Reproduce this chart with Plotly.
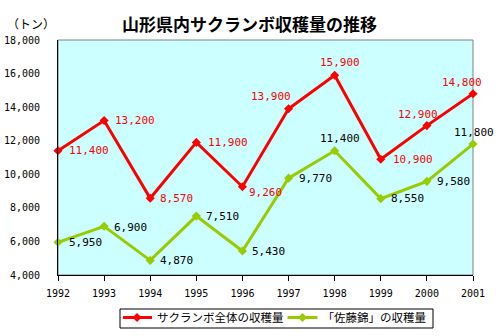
import plotly.graph_objects as go

years = [1992, 1993, 1994, 1995, 1996, 1997, 1998, 1999, 2000, 2001]
total = [11400, 13200, 8570, 11900, 9260, 13900, 15900, 10900, 12900, 14800]
sato = [5950, 6900, 4870, 7510, 5430, 9770, 11400, 8550, 9580, 11800]
name_total = "サクランボ全体の収穫量"
name_sato = "「佐藤錦」の収穫量"
title_text = "山形県内サクランボ収穫量の推移"
unit_text = "（トン）"

# label placement styles (xanchor, xshift, yshift) per point
pos_total = [("left", 9, 0), ("left", 9, 0), ("left", 8, 0), ("left", 10, 0), ("left", 5, -6),
             ("center", -18, 12), ("center", 5, 13), ("left", 10, 0), ("center", -9, 11), ("center", -11, 11)]
pos_sato = [("left", 9, 0), ("left", 8, -1), ("left", 8, 0), ("left", 8, 0), ("left", 8, 0),
            ("left", 8, 0), ("center", 5, 12), ("left", 8, 0), ("left", 8, 0), ("center", 1, 12)]

RED = "#FF0000"
GREEN = "#99CC00"
NUMFONT = "DejaVu Sans Mono"
JPFONT = "Noto Sans CJK JP"

L, R, T, B = 58, 473, 40, 275
W, H = 501, 336

def px_to_paper(px, py):
    return (px - L) / (R - L), (B - py) / (B - T)

fig = go.Figure()
fig.add_trace(go.Scatter(x=years, y=total, name=name_total, mode="lines+markers",
                         line=dict(color=RED, width=3),
                         marker=dict(symbol="diamond", size=7, color=RED),
                         cliponaxis=False))
fig.add_trace(go.Scatter(x=years, y=sato, name=name_sato, mode="lines+markers",
                         line=dict(color=GREEN, width=3),
                         marker=dict(symbol="diamond", size=7, color=GREEN),
                         cliponaxis=False))

annotations = []
for ys, pos, col in ((total, pos_total, RED), (sato, pos_sato, "#000000")):
    for x, y, (xa, xs, yshift) in zip(years, ys, pos):
        annotations.append(dict(x=x, y=y, xref="x", yref="y", text=f"{y:,}",
                                showarrow=False, xanchor=xa, yanchor="middle",
                                xshift=xs, yshift=yshift,
                                font=dict(family=NUMFONT, size=11, color=col)))

ux, uy = px_to_paper(31, 23)
annotations.append(dict(x=ux, y=uy, xref="paper", yref="paper",
                        text=unit_text, showarrow=False, xanchor="center", yanchor="middle",
                        font=dict(family=JPFONT, size=12, color="#000")))
tx, ty = px_to_paper(249, 23)
annotations.append(dict(x=tx, y=ty, xref="paper", yref="paper",
                        text="<b>" + title_text + "</b>", showarrow=False, xanchor="center", yanchor="middle",
                        font=dict(family=JPFONT, size=17, color="#000")))

lx, ly = px_to_paper(277, 303)
bx0, by0 = px_to_paper(120, 328)
bx1, by1 = px_to_paper(433, 309)

fig.update_layout(
    width=W, height=H,
    margin=dict(l=L, r=W - R, t=T, b=H - B, autoexpand=False),
    paper_bgcolor="white",
    plot_bgcolor="#CCFFFF",
    xaxis=dict(range=[1992, 2001], tickmode="array", tickvals=years, ticktext=[str(y) for y in years],
               showgrid=False, zeroline=False, showline=True, linecolor="#000", linewidth=1,
               ticks="outside", ticklen=5, tickcolor="#000", ticklabelstandoff=4,
               tickfont=dict(family=NUMFONT, size=10, color="#000"), automargin=False),
    yaxis=dict(range=[4000, 18000], dtick=2000, tickformat=",",
               showgrid=False, zeroline=False, showline=True, linecolor="#000", linewidth=1,
               ticks="", ticklabelstandoff=15,
               tickfont=dict(family=NUMFONT, size=10, color="#000"), automargin=False),
    showlegend=True,
    legend=dict(orientation="h", x=lx, xanchor="center", y=ly, yanchor="top",
                borderwidth=0, bgcolor="rgba(0,0,0,0)",
                font=dict(family=JPFONT, size=11.5, color="#000"),
                itemwidth=30, tracegroupgap=0, indentation=-6),
    annotations=annotations,
    shapes=[dict(type="rect", xref="paper", yref="paper", x0=0, x1=1, y0=0, y1=1,
                 line=dict(color="#808080", width=1), layer="below"),
            dict(type="rect", xref="paper", yref="paper", x0=bx0, x1=bx1, y0=by0, y1=by1,
                 line=dict(color="#000", width=1), fillcolor="white", layer="below")],
)

fig.write_html("out.html")
